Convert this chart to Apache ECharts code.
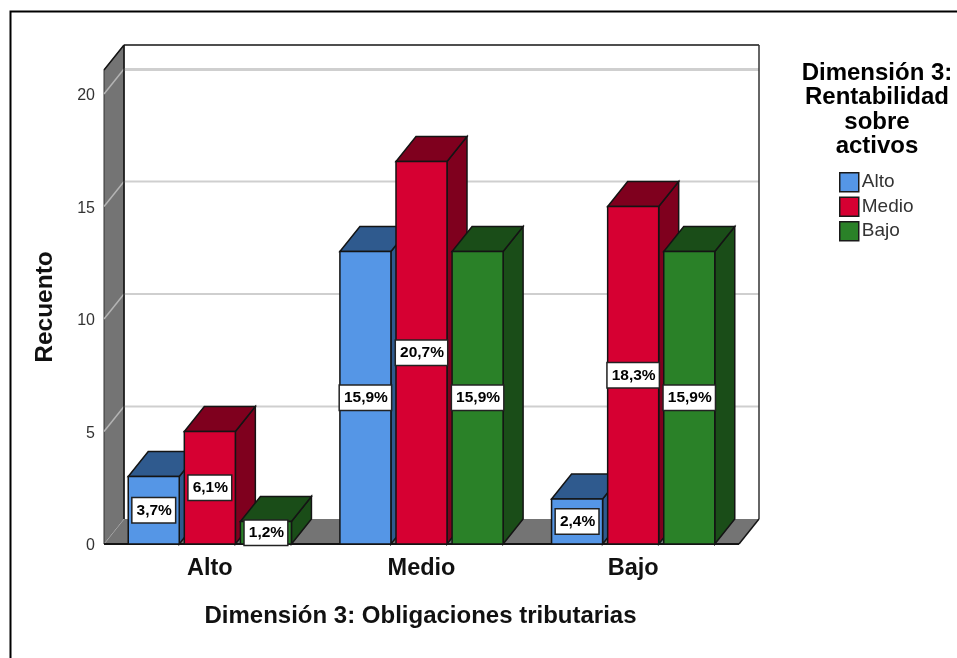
<!DOCTYPE html>
<html><head><meta charset="utf-8">
<style>html,body{margin:0;padding:0;background:#fff}#c{width:957px;height:658px}</style>
<script src="https://cdn.jsdelivr.net/npm/echarts@6/dist/echarts.min.js"></script>
</head><body><div id="c"></div>
<script>
const categories = ['Alto','Medio','Bajo'];
const yTicks = [0,5,10,15,20];
const alto  = [3,13,2];
const medio = [5,17,15];
const bajo  = [1,13,13];
const altoPct  = ['3,7%','15,9%','2,4%'];
const medioPct = ['6,1%','20,7%','18,3%'];
const bajoPct  = ['1,2%','15,9%','15,9%'];
const seriesNames = ['Alto','Medio','Bajo'];

const FONT = '"Liberation Sans", Arial, sans-serif';
const DX = 20, DY = 25;
const BAR_W = 0.241, STEP = 0.265;
const INK = '#141414';

const chart = echarts.init(document.getElementById('c'), null, {renderer:'canvas'});

function poly(points, fill, stroke, lw){
  return {type:'polygon', shape:{points}, style:{fill, stroke, lineWidth:lw}};
}
function line(a,b,stroke,lw){
  return {type:'line', shape:{x1:a[0],y1:a[1],x2:b[0],y2:b[1]}, style:{stroke,lineWidth:lw,fill:null}};
}
function backdrop(params, api){
  const y0 = api.coord([0,0])[1];
  const left = params.coordSys.x, top = params.coordSys.y;
  const right = left + params.coordSys.width;
  const wall = '#747474';
  const kids = [
    poly([[left+DX,top-DY],[right+DX,top-DY],[right+DX,y0-DY],[left+DX,y0-DY]],'#fff',null,0),
    poly([[left,top],[left+DX,top-DY],[left+DX,y0-DY],[left,y0]],wall,'#333',1),
    poly([[left,y0],[left+DX,y0-DY],[right+DX,y0-DY],[right,y0]],wall,null,0)
  ];
  yTicks.filter(v=>v>0).forEach(v=>{
    const y = api.coord([0,v])[1];
    kids.push(line([left,y],[left+DX,y-DY],'#b4b4b4',1.5));
    kids.push(line([left+DX,y-DY],[right+DX,y-DY],'#cfcfcf',2));
  });
  kids.push(line([left+DX,top],[right+DX,top],'#cfcfcf',2));
  kids.push(line([left+DX,top-DY],[right+DX,top-DY],INK,1.5));
  kids.push(line([right+DX,top-DY],[right+DX,y0-DY],'#333',1.5));
  kids.push(line([left+DX,top-DY],[left+DX,y0-DY],INK,1.5));
  kids.push(line([left,top],[left+DX,top-DY],INK,1.5));
  kids.push(line([left,y0],[left+DX,y0-DY],'#aaa',1));
  kids.push(line([right,y0],[right+DX,y0-DY],INK,1.5));
  kids.push(line([left,y0],[right,y0],INK,2));
  return {type:'group',children:kids};
}

function bar3d(seriesIdx, front, dark, pct){
  return function(params, api){
    const cat = api.value(0), val = api.value(1);
    const c = api.coord([cat,val]);
    const y0 = api.coord([cat,0])[1];
    const band = api.size([1,0])[0];
    const w = band*BAR_W;
    const cx = c[0] + (seriesIdx-1)*band*STEP;
    const x1 = cx-w/2, x2 = cx+w/2, yt = c[1];
    const kids = [
      poly([[x2,yt],[x2+DX,yt-DY],[x2+DX,y0-DY],[x2,y0]],dark,INK,1.5),
      poly([[x1,yt],[x1+DX,yt-DY],[x2+DX,yt-DY],[x2,yt]],dark,INK,1.5),
      poly([[x1,yt],[x2,yt],[x2,y0],[x1,y0]],front,INK,1.5),
      {type:'text',z2:10,style:{
        text:pct[params.dataIndex],x:cx,y:(yt+y0)/2,align:'center',verticalAlign:'middle',
        font:'bold 15.5px '+FONT,fill:'#000',backgroundColor:'#fff',
        borderColor:'#222',borderWidth:1.5,padding:[4,3,4,4]
      }}
    ];
    return {type:'group',children:kids};
  };
}

function makeSeries(name, idx, values, front, dark, pct){
  return {
    name, type:'custom', coordinateSystem:'cartesian2d', clip:false,
    renderItem: bar3d(idx, front, dark, pct),
    itemStyle:{color:front},
    encode:{x:0,y:1},
    data: values.map((v,i)=>[i,v]),
    z:5
  };
}

chart.setOption({
  animation:false,
  backgroundColor:'#fff',
  title:{
    text:'Dimensión 3:\nRentabilidad\nsobre\nactivos',
    left:872, top:56, textAlign:'center',
    textStyle:{fontFamily:FONT,fontWeight:'bold',fontSize:24,lineHeight:24.4,color:'#000',align:'center'}
  },
  legend:{
    orient:'vertical', left:839, top:172, padding:0,
    itemWidth:19, itemHeight:19, itemGap:4,
    icon:'rect',
    data:seriesNames,
    itemStyle:{borderColor:'#1a1a1a',borderWidth:1.5},
    textStyle:{fontFamily:FONT,fontSize:19,color:'#333',padding:[0,0,0,-2]}
  },
  grid:{left:104,top:70,width:635,height:474,containLabel:false},
  xAxis:{
    type:'category', data:categories,
    axisLine:{show:false}, axisTick:{show:false},
    axisLabel:{fontFamily:FONT,fontWeight:'bold',fontSize:23.5,color:'#111',margin:13},
    name:'Dimensión 3: Obligaciones tributarias', nameLocation:'middle', nameGap:60,
    nameTextStyle:{fontFamily:FONT,fontWeight:'bold',fontSize:24,color:'#111',padding:[0,2,0,0]}
  },
  yAxis:{
    type:'value', min:0, max:21.07, interval:5,
    axisLine:{show:false}, axisTick:{show:false}, splitLine:{show:false},
    axisLabel:{fontFamily:FONT,fontSize:16,color:'#333',margin:9,showMaxLabel:false,verticalAlign:'top',lineHeight:4},
    name:'Recuento', nameLocation:'middle', nameGap:46, nameRotate:90,
    nameTextStyle:{fontFamily:FONT,fontWeight:'bold',fontSize:24.5,color:'#111'}
  },
  graphic:[{
    type:'polyline', silent:true, z:100,
    shape:{points:[[10.5,658],[10.5,11.5],[957,11.5]]},
    style:{stroke:'#000',lineWidth:2,fill:null}
  }],
  series:[
    {type:'custom',coordinateSystem:'cartesian2d',clip:false,renderItem:backdrop,data:[[0,0]],z:1,silent:true,encode:{x:0,y:1}},
    makeSeries(seriesNames[0],0,alto,'#5596E6','#2F5A8E',altoPct),
    makeSeries(seriesNames[1],1,medio,'#D60032','#7F001E',medioPct),
    makeSeries(seriesNames[2],2,bajo,'#2A8128','#1A4D18',bajoPct)
  ]
});
</script></body></html>
